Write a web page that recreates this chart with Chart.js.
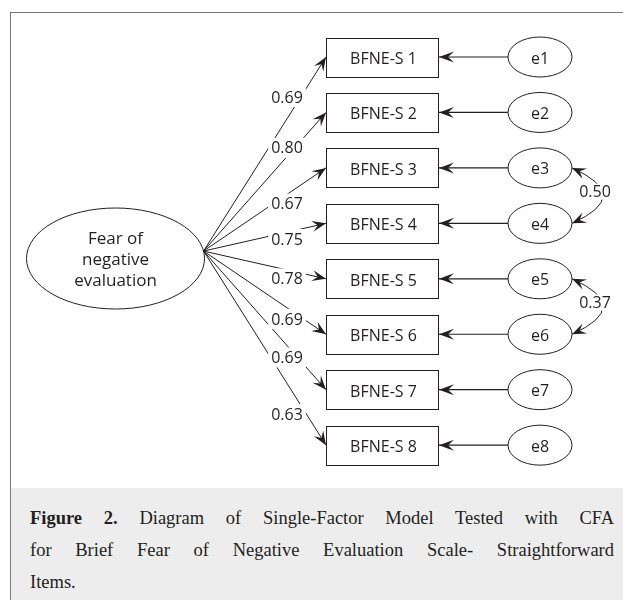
<!DOCTYPE html>
<html>
<head>
<meta charset="utf-8">
<script src="https://cdn.jsdelivr.net/npm/chart.js@4.4.1/dist/chart.umd.min.js"></script>
<style>
  html, body { margin: 0; padding: 0; background: #ffffff; }
  #wrap { position: relative; width: 623px; height: 600px; overflow: hidden; background: #ffffff; }
  #c { position: absolute; left: 0; top: 0; }
  #frameTop { position: absolute; left: 10px; top: 12px; width: 613px; height: 1px; background: #7a7a7a; }
  #frameLeft { position: absolute; left: 10px; top: 12px; width: 1px; height: 588px; background: #7a7a7a; }
  #caption { position: absolute; left: 11px; top: 488px; width: 612px; height: 112px; background: #ededed; }
  #captext { position: absolute; left: 19px; top: 14px; width: 584px; font-family: "Liberation Serif", "DejaVu Serif", serif; font-size: 18.5px; line-height: 32px; color: #231f20; }
  .jl { text-align: justify; text-align-last: justify; }
  .ll { text-align: left; }
</style>
</head>
<body>
<div id="wrap">
  <canvas id="c" width="623" height="600"></canvas>
  <div id="frameTop"></div>
  <div id="frameLeft"></div>
  <div id="caption"><div id="captext"></div></div>
</div>
<script>
// ---------------- DATA ----------------
const items = ['BFNE-S 1', 'BFNE-S 2', 'BFNE-S 3', 'BFNE-S 4', 'BFNE-S 5', 'BFNE-S 6', 'BFNE-S 7', 'BFNE-S 8'];
const loadings = [0.69, 0.80, 0.67, 0.75, 0.78, 0.69, 0.69, 0.63];
const errorTerms = ['e1', 'e2', 'e3', 'e4', 'e5', 'e6', 'e7', 'e8'];
const factorLines = ['Fear of', 'negative', 'evaluation'];
const covFrom = ['e3', 'e5'];
const covTo = ['e4', 'e6'];
const covValues = [0.50, 0.37];
const captionBold = 'Figure 2.';
const captionLines = [
  ' Diagram of Single-Factor Model Tested with CFA',
  'for Brief Fear of Negative Evaluation Scale- Straightforward',
  'Items.'
];

// ---------------- LAYOUT (positions / sizes, not data) ----------------
const LAYOUT = {
  xMin: 0, xMax: 623,
  rowTopPx: 57, rowStepPx: 55.45, heightPx: 600,
  latentX: 115.5, latentRow: 3.634, latentRX: 89, latentRY: 50.5,
  originRow: 3.5,
  boxLeft: 326, boxRight: 438, boxHalfH: 19.5,
  errX: 540, errRX: 32, errRY: 20,
  labelX: 287,
  labelRows: [0.7214, 1.6393, 2.6425, 3.2823, 3.9928, 4.7250, 5.4184, 6.4382],
  covBulge: 62, covLabelDX: -8, covLabelDY: -4
};
const INK = '#231f20';
const SANS = '"Open Sans", "Noto Sans", sans-serif';

const yMin = -LAYOUT.rowTopPx / LAYOUT.rowStepPx;
const yMax = yMin + LAYOUT.heightPx / LAYOUT.rowStepPx;

// origin of loading paths: on the latent ellipse boundary at originRow
const dyPx = (LAYOUT.originRow - LAYOUT.latentRow) * LAYOUT.rowStepPx;
const originX = LAYOUT.latentX + LAYOUT.latentRX * Math.sqrt(1 - Math.pow(dyPx / LAYOUT.latentRY, 2));

// ---------------- caption (real HTML text) ----------------
(function () {
  const cap = document.getElementById('captext');
  captionLines.forEach((t, i) => {
    const d = document.createElement('div');
    d.className = i < captionLines.length - 1 ? 'jl' : 'll';
    if (i === 0) {
      const b = document.createElement('b');
      b.textContent = captionBold;
      d.appendChild(b);
    }
    d.appendChild(document.createTextNode(t));
    cap.appendChild(d);
  });
})();

// ---------------- datasets (paths through the scales) ----------------
const loadingSets = items.map((name, i) => ({
  label: 'loading ' + name,
  data: [{ x: originX, y: LAYOUT.originRow }, { x: LAYOUT.boxLeft, y: i }],
  showLine: true, borderColor: INK, borderWidth: 1, pointRadius: 0, fill: false
}));
const errorSets = errorTerms.map((e, i) => ({
  label: 'error ' + e,
  data: [{ x: LAYOUT.errX - LAYOUT.errRX, y: i }, { x: LAYOUT.boxRight, y: i }],
  showLine: true, borderColor: INK, borderWidth: 1.2, pointRadius: 0, fill: false
}));

function arrowHead(ctx, x, y, ang, len, half) {
  ctx.save();
  ctx.translate(x, y);
  ctx.rotate(ang);
  ctx.beginPath();
  ctx.moveTo(0, 0);
  ctx.lineTo(-len, -half);
  ctx.lineTo(-len * 0.6, 0);
  ctx.lineTo(-len, half);
  ctx.closePath();
  ctx.fill();
  ctx.restore();
}

function labelWithBg(ctx, text, cx, cy, font, padX, padY) {
  ctx.font = font;
  const w = ctx.measureText(text).width;
  ctx.fillStyle = '#ffffff';
  ctx.fillRect(cx - w / 2 - padX, cy - padY, w + 2 * padX, 2 * padY);
  ctx.fillStyle = INK;
  ctx.textAlign = 'center';
  ctx.textBaseline = 'middle';
  ctx.fillText(text, cx, cy + 1);
}

const diagramPlugin = {
  id: 'semDiagram',
  afterDatasetsDraw(chart) {
    const ctx = chart.ctx;
    const X = v => chart.scales.x.getPixelForValue(v);
    const Y = r => chart.scales.y.getPixelForValue(r);
    ctx.save();
    ctx.strokeStyle = INK;
    ctx.fillStyle = INK;
    ctx.lineWidth = 1;

    // latent factor ellipse
    const lx = X(LAYOUT.latentX), ly = Y(LAYOUT.latentRow);
    ctx.beginPath();
    ctx.ellipse(lx, ly, LAYOUT.latentRX, LAYOUT.latentRY, 0, 0, Math.PI * 2);
    ctx.stroke();
    ctx.font = '17px ' + SANS;
    ctx.textAlign = 'center';
    ctx.textBaseline = 'alphabetic';
    factorLines.forEach((t, k) => {
      ctx.fillText(t, lx, ly + (k - 1) * 21 + 6);
    });

    // item boxes
    items.forEach((name, i) => {
      const x0 = Math.round(X(LAYOUT.boxLeft)) + 0.5;
      const x1 = Math.round(X(LAYOUT.boxRight)) + 0.5;
      const cy = Y(i);
      const y0 = Math.round(cy - LAYOUT.boxHalfH) + 0.5;
      const y1 = Math.round(cy + LAYOUT.boxHalfH) + 0.5;
      ctx.strokeRect(x0, y0, x1 - x0, y1 - y0);
      ctx.font = '16px ' + SANS;
      ctx.textAlign = 'center';
      ctx.textBaseline = 'alphabetic';
      ctx.fillText(name, (x0 + x1) / 2 + 1, cy + 7);
    });

    // error ellipses
    errorTerms.forEach((e, i) => {
      const ex = X(LAYOUT.errX), ey = Y(i);
      ctx.beginPath();
      ctx.ellipse(ex, ey, LAYOUT.errRX, LAYOUT.errRY, 0, 0, Math.PI * 2);
      ctx.stroke();
      ctx.font = '16px ' + SANS;
      ctx.textAlign = 'center';
      ctx.textBaseline = 'alphabetic';
      ctx.fillText(e, ex, ey + 6.5);
      // arrowhead into box
      arrowHead(ctx, X(LAYOUT.boxRight) + 1, ey, Math.PI, 15, 5.5);
    });

    // loading arrowheads + labels
    const ox = X(originX), oy = Y(LAYOUT.originRow);
    loadings.forEach((v, i) => {
      const tx = X(LAYOUT.boxLeft), ty = Y(i);
      arrowHead(ctx, tx, ty, Math.atan2(ty - oy, tx - ox), 14, 5.5);
    });
    loadings.forEach((v, i) => {
      labelWithBg(ctx, v.toFixed(2), X(LAYOUT.labelX), Y(LAYOUT.labelRows[i]), '16px ' + SANS, 3, 10);
    });

    // covariances
    covValues.forEach((v, k) => {
      const a = errorTerms.indexOf(covFrom[k]);
      const b = errorTerms.indexOf(covTo[k]);
      const sx = X(LAYOUT.errX) + LAYOUT.errRX, sy = Y(a);
      const exx = X(LAYOUT.errX) + LAYOUT.errRX, eyy = Y(b);
      const cx = sx + LAYOUT.covBulge, cy = (sy + eyy) / 2;
      ctx.strokeStyle = INK;
      ctx.beginPath();
      ctx.moveTo(sx, sy);
      ctx.quadraticCurveTo(cx, cy, exx, eyy);
      ctx.stroke();
      ctx.fillStyle = INK;
      arrowHead(ctx, sx, sy, Math.atan2(sy - cy, sx - cx), 14, 5.5);
      arrowHead(ctx, exx, eyy, Math.atan2(eyy - cy, exx - cx), 14, 5.5);
      const mx = 0.5 * sx + 0.5 * cx;
      labelWithBg(ctx, v.toFixed(2), mx + LAYOUT.covLabelDX, cy + LAYOUT.covLabelDY, '16px ' + SANS, 2, 8);
    });

    ctx.restore();
  }
};

new Chart(document.getElementById('c'), {
  type: 'scatter',
  data: { datasets: loadingSets.concat(errorSets) },
  options: {
    responsive: false,
    animation: false,
    devicePixelRatio: 1,
    events: [],
    layout: { padding: 0 },
    plugins: { legend: { display: false }, tooltip: { enabled: false } },
    scales: {
      x: { type: 'linear', display: false, min: LAYOUT.xMin, max: LAYOUT.xMax },
      y: { type: 'linear', display: false, min: yMin, max: yMax, reverse: true }
    }
  },
  plugins: [diagramPlugin]
});
</script>
</body>
</html>
